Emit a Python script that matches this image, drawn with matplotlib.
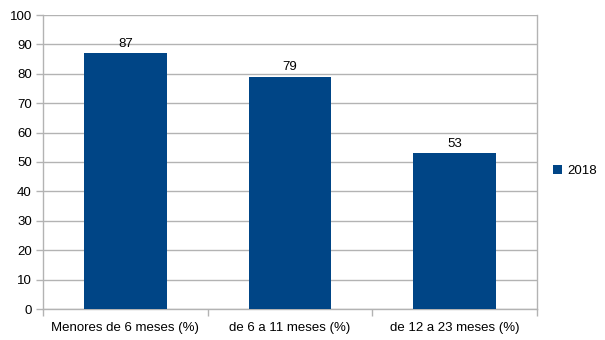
import matplotlib.pyplot as plt
import numpy as np

categorias = ["Menores de 6 meses (%)", "de 6 a 11 meses (%)", "de 12 a 23 meses (%)"]
valores = [87, 79, 53]
serie = "2018"

plt.rcParams['font.family'] = ['Liberation Sans', 'DejaVu Sans']
cinza = '#b3b3b3'
azul = '#004586'

fig = plt.figure(figsize=(6.05, 3.4), dpi=100)
ax = fig.add_axes([43/605, 31/340, 494/605, 294/340])

x = np.arange(len(categorias))
barras = ax.bar(x, valores, width=0.5, color=azul, label=serie, zorder=3)
for xi, v in zip(x, valores):
    ax.text(xi, v + 1.2, str(v), ha='center', va='bottom', fontsize=9.5, color='#000000')

ax.set_xlim(-0.5, len(categorias) - 0.5)
ax.set_ylim(0, 100)
ax.set_yticks(range(0, 101, 10))
ax.yaxis.grid(True, color=cinza, linewidth=1, zorder=0)
ax.set_axisbelow(True)

ax.set_xticks(x)
ax.set_xticklabels(categorias)
ax.set_xticks(np.arange(-0.5, len(categorias), 1), minor=True)
ax.tick_params(axis='x', which='major', length=0, pad=9, labelsize=9.5)
ax.tick_params(axis='x', which='minor', length=5, color=cinza, width=1)
ax.tick_params(axis='y', length=5, color=cinza, width=1, labelsize=9.5, pad=3)

for lado in ['left', 'right', 'bottom']:
    ax.spines[lado].set_color(cinza)
    ax.spines[lado].set_linewidth(1)
ax.spines['top'].set_visible(False)

leg = fig.legend(handles=[barras], labels=[serie], loc='center left',
                 bbox_to_anchor=(541/605, 1 - 171/340), frameon=False,
                 fontsize=9.5, handlelength=0.7, handleheight=0.7, handletextpad=0.4)

fig.savefig('out.png', dpi=100)
